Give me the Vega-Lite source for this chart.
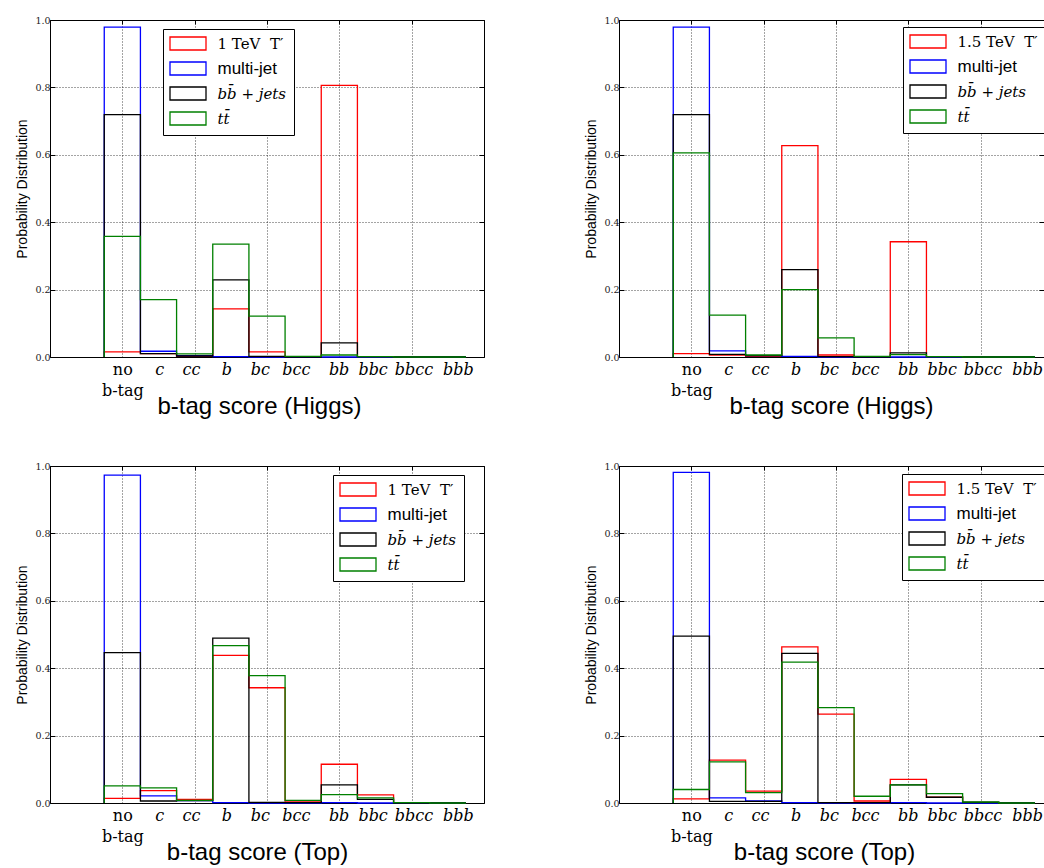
{
"$schema":"https://vega.github.io/schema/vega-lite/v6.json",
"padding":{"left":15,"top":14,"right":0,"bottom":0},
"background":"white",
"config":{
 "view":{"stroke":"black","strokeWidth":1},
 "axis":{"domain":false,"tickColor":"black","tickWidth":1,"gridColor":"black","gridDash":[1,2],"gridWidth":0.8,"gridOpacity":0.9,"labelFont":"DejaVu Serif","labelColor":"#222","titleFont":"Liberation Sans","titleFontWeight":"normal","titleColor":"black"},
 "line":{"strokeWidth":1.3}
},
"datasets":{"h":[
{"p":"TL","s":"sig","e":-0.5,"v":0},{"p":"TL","s":"sig","e":-0.5,"v":0.015},{"p":"TL","s":"sig","e":0.5,"v":0.010},{"p":"TL","s":"sig","e":1.5,"v":0.002},{"p":"TL","s":"sig","e":2.5,"v":0.143},{"p":"TL","s":"sig","e":3.5,"v":0.015},{"p":"TL","s":"sig","e":4.5,"v":0.001},{"p":"TL","s":"sig","e":5.5,"v":0.806},{"p":"TL","s":"sig","e":6.5,"v":0.001},{"p":"TL","s":"sig","e":7.5,"v":0},{"p":"TL","s":"sig","e":8.5,"v":0},{"p":"TL","s":"sig","e":9.5,"v":0},
{"p":"TL","s":"qcd","e":-0.5,"v":0},{"p":"TL","s":"qcd","e":-0.5,"v":0.979},{"p":"TL","s":"qcd","e":0.5,"v":0.017},{"p":"TL","s":"qcd","e":1.5,"v":0.004},{"p":"TL","s":"qcd","e":2.5,"v":0.001},{"p":"TL","s":"qcd","e":3.5,"v":0},{"p":"TL","s":"qcd","e":4.5,"v":0},{"p":"TL","s":"qcd","e":5.5,"v":0},{"p":"TL","s":"qcd","e":6.5,"v":0},{"p":"TL","s":"qcd","e":7.5,"v":0},{"p":"TL","s":"qcd","e":8.5,"v":0},{"p":"TL","s":"qcd","e":9.5,"v":0},
{"p":"TL","s":"bb","e":-0.5,"v":0},{"p":"TL","s":"bb","e":-0.5,"v":0.719},{"p":"TL","s":"bb","e":0.5,"v":0.010},{"p":"TL","s":"bb","e":1.5,"v":0.003},{"p":"TL","s":"bb","e":2.5,"v":0.229},{"p":"TL","s":"bb","e":3.5,"v":0.002},{"p":"TL","s":"bb","e":4.5,"v":0},{"p":"TL","s":"bb","e":5.5,"v":0.042},{"p":"TL","s":"bb","e":6.5,"v":0.001},{"p":"TL","s":"bb","e":7.5,"v":0},{"p":"TL","s":"bb","e":8.5,"v":0},{"p":"TL","s":"bb","e":9.5,"v":0},
{"p":"TL","s":"tt","e":-0.5,"v":0},{"p":"TL","s":"tt","e":-0.5,"v":0.358},{"p":"TL","s":"tt","e":0.5,"v":0.170},{"p":"TL","s":"tt","e":1.5,"v":0.009},{"p":"TL","s":"tt","e":2.5,"v":0.335},{"p":"TL","s":"tt","e":3.5,"v":0.121},{"p":"TL","s":"tt","e":4.5,"v":0.002},{"p":"TL","s":"tt","e":5.5,"v":0.006},{"p":"TL","s":"tt","e":6.5,"v":0.001},{"p":"TL","s":"tt","e":7.5,"v":0},{"p":"TL","s":"tt","e":8.5,"v":0},{"p":"TL","s":"tt","e":9.5,"v":0},
{"p":"TR","s":"sig","e":-0.5,"v":0},{"p":"TR","s":"sig","e":-0.5,"v":0.010},{"p":"TR","s":"sig","e":0.5,"v":0.006},{"p":"TR","s":"sig","e":1.5,"v":0.002},{"p":"TR","s":"sig","e":2.5,"v":0.627},{"p":"TR","s":"sig","e":3.5,"v":0.006},{"p":"TR","s":"sig","e":4.5,"v":0.001},{"p":"TR","s":"sig","e":5.5,"v":0.342},{"p":"TR","s":"sig","e":6.5,"v":0.001},{"p":"TR","s":"sig","e":7.5,"v":0},{"p":"TR","s":"sig","e":8.5,"v":0},{"p":"TR","s":"sig","e":9.5,"v":0},
{"p":"TR","s":"qcd","e":-0.5,"v":0},{"p":"TR","s":"qcd","e":-0.5,"v":0.979},{"p":"TR","s":"qcd","e":0.5,"v":0.018},{"p":"TR","s":"qcd","e":1.5,"v":0.004},{"p":"TR","s":"qcd","e":2.5,"v":0.002},{"p":"TR","s":"qcd","e":3.5,"v":0},{"p":"TR","s":"qcd","e":4.5,"v":0},{"p":"TR","s":"qcd","e":5.5,"v":0},{"p":"TR","s":"qcd","e":6.5,"v":0},{"p":"TR","s":"qcd","e":7.5,"v":0},{"p":"TR","s":"qcd","e":8.5,"v":0},{"p":"TR","s":"qcd","e":9.5,"v":0},
{"p":"TR","s":"bb","e":-0.5,"v":0},{"p":"TR","s":"bb","e":-0.5,"v":0.719},{"p":"TR","s":"bb","e":0.5,"v":0.008},{"p":"TR","s":"bb","e":1.5,"v":0.004},{"p":"TR","s":"bb","e":2.5,"v":0.259},{"p":"TR","s":"bb","e":3.5,"v":0.001},{"p":"TR","s":"bb","e":4.5,"v":0},{"p":"TR","s":"bb","e":5.5,"v":0.012},{"p":"TR","s":"bb","e":6.5,"v":0.001},{"p":"TR","s":"bb","e":7.5,"v":0},{"p":"TR","s":"bb","e":8.5,"v":0},{"p":"TR","s":"bb","e":9.5,"v":0},
{"p":"TR","s":"tt","e":-0.5,"v":0},{"p":"TR","s":"tt","e":-0.5,"v":0.606},{"p":"TR","s":"tt","e":0.5,"v":0.124},{"p":"TR","s":"tt","e":1.5,"v":0.006},{"p":"TR","s":"tt","e":2.5,"v":0.200},{"p":"TR","s":"tt","e":3.5,"v":0.057},{"p":"TR","s":"tt","e":4.5,"v":0.002},{"p":"TR","s":"tt","e":5.5,"v":0.007},{"p":"TR","s":"tt","e":6.5,"v":0.001},{"p":"TR","s":"tt","e":7.5,"v":0},{"p":"TR","s":"tt","e":8.5,"v":0},{"p":"TR","s":"tt","e":9.5,"v":0},
{"p":"BL","s":"sig","e":-0.5,"v":0},{"p":"BL","s":"sig","e":-0.5,"v":0.014},{"p":"BL","s":"sig","e":0.5,"v":0.037},{"p":"BL","s":"sig","e":1.5,"v":0.011},{"p":"BL","s":"sig","e":2.5,"v":0.438},{"p":"BL","s":"sig","e":3.5,"v":0.342},{"p":"BL","s":"sig","e":4.5,"v":0.006},{"p":"BL","s":"sig","e":5.5,"v":0.115},{"p":"BL","s":"sig","e":6.5,"v":0.024},{"p":"BL","s":"sig","e":7.5,"v":0.001},{"p":"BL","s":"sig","e":8.5,"v":0},{"p":"BL","s":"sig","e":9.5,"v":0},
{"p":"BL","s":"qcd","e":-0.5,"v":0},{"p":"BL","s":"qcd","e":-0.5,"v":0.973},{"p":"BL","s":"qcd","e":0.5,"v":0.021},{"p":"BL","s":"qcd","e":1.5,"v":0.007},{"p":"BL","s":"qcd","e":2.5,"v":0.001},{"p":"BL","s":"qcd","e":3.5,"v":0},{"p":"BL","s":"qcd","e":4.5,"v":0},{"p":"BL","s":"qcd","e":5.5,"v":0.001},{"p":"BL","s":"qcd","e":6.5,"v":0},{"p":"BL","s":"qcd","e":7.5,"v":0},{"p":"BL","s":"qcd","e":8.5,"v":0},{"p":"BL","s":"qcd","e":9.5,"v":0},
{"p":"BL","s":"bb","e":-0.5,"v":0},{"p":"BL","s":"bb","e":-0.5,"v":0.446},{"p":"BL","s":"bb","e":0.5,"v":0.006},{"p":"BL","s":"bb","e":1.5,"v":0.007},{"p":"BL","s":"bb","e":2.5,"v":0.489},{"p":"BL","s":"bb","e":3.5,"v":0.002},{"p":"BL","s":"bb","e":4.5,"v":0.001},{"p":"BL","s":"bb","e":5.5,"v":0.054},{"p":"BL","s":"bb","e":6.5,"v":0.011},{"p":"BL","s":"bb","e":7.5,"v":0},{"p":"BL","s":"bb","e":8.5,"v":0},{"p":"BL","s":"bb","e":9.5,"v":0},
{"p":"BL","s":"tt","e":-0.5,"v":0},{"p":"BL","s":"tt","e":-0.5,"v":0.051},{"p":"BL","s":"tt","e":0.5,"v":0.045},{"p":"BL","s":"tt","e":1.5,"v":0.008},{"p":"BL","s":"tt","e":2.5,"v":0.467},{"p":"BL","s":"tt","e":3.5,"v":0.378},{"p":"BL","s":"tt","e":4.5,"v":0.008},{"p":"BL","s":"tt","e":5.5,"v":0.025},{"p":"BL","s":"tt","e":6.5,"v":0.015},{"p":"BL","s":"tt","e":7.5,"v":0.001},{"p":"BL","s":"tt","e":8.5,"v":0},{"p":"BL","s":"tt","e":9.5,"v":0},
{"p":"BR","s":"sig","e":-0.5,"v":0},{"p":"BR","s":"sig","e":-0.5,"v":0.012},{"p":"BR","s":"sig","e":0.5,"v":0.127},{"p":"BR","s":"sig","e":1.5,"v":0.035},{"p":"BR","s":"sig","e":2.5,"v":0.463},{"p":"BR","s":"sig","e":3.5,"v":0.264},{"p":"BR","s":"sig","e":4.5,"v":0.006},{"p":"BR","s":"sig","e":5.5,"v":0.070},{"p":"BR","s":"sig","e":6.5,"v":0.017},{"p":"BR","s":"sig","e":7.5,"v":0.002},{"p":"BR","s":"sig","e":8.5,"v":0},{"p":"BR","s":"sig","e":9.5,"v":0},
{"p":"BR","s":"qcd","e":-0.5,"v":0},{"p":"BR","s":"qcd","e":-0.5,"v":0.981},{"p":"BR","s":"qcd","e":0.5,"v":0.015},{"p":"BR","s":"qcd","e":1.5,"v":0.006},{"p":"BR","s":"qcd","e":2.5,"v":0.001},{"p":"BR","s":"qcd","e":3.5,"v":0},{"p":"BR","s":"qcd","e":4.5,"v":0},{"p":"BR","s":"qcd","e":5.5,"v":0.001},{"p":"BR","s":"qcd","e":6.5,"v":0},{"p":"BR","s":"qcd","e":7.5,"v":0},{"p":"BR","s":"qcd","e":8.5,"v":0},{"p":"BR","s":"qcd","e":9.5,"v":0},
{"p":"BR","s":"bb","e":-0.5,"v":0},{"p":"BR","s":"bb","e":-0.5,"v":0.495},{"p":"BR","s":"bb","e":0.5,"v":0.005},{"p":"BR","s":"bb","e":1.5,"v":0.005},{"p":"BR","s":"bb","e":2.5,"v":0.444},{"p":"BR","s":"bb","e":3.5,"v":0.001},{"p":"BR","s":"bb","e":4.5,"v":0.001},{"p":"BR","s":"bb","e":5.5,"v":0.054},{"p":"BR","s":"bb","e":6.5,"v":0.017},{"p":"BR","s":"bb","e":7.5,"v":0.002},{"p":"BR","s":"bb","e":8.5,"v":0},{"p":"BR","s":"bb","e":9.5,"v":0},
{"p":"BR","s":"tt","e":-0.5,"v":0},{"p":"BR","s":"tt","e":-0.5,"v":0.040},{"p":"BR","s":"tt","e":0.5,"v":0.122},{"p":"BR","s":"tt","e":1.5,"v":0.031},{"p":"BR","s":"tt","e":2.5,"v":0.418},{"p":"BR","s":"tt","e":3.5,"v":0.283},{"p":"BR","s":"tt","e":4.5,"v":0.020},{"p":"BR","s":"tt","e":5.5,"v":0.054},{"p":"BR","s":"tt","e":6.5,"v":0.028},{"p":"BR","s":"tt","e":7.5,"v":0.003},{"p":"BR","s":"tt","e":8.5,"v":0},{"p":"BR","s":"tt","e":9.5,"v":0}
]},
"spacing":41,
"resolve":{"scale":{"color":"independent","x":"independent","y":"independent"},"legend":{"color":"independent"},"axis":{"x":"independent","y":"independent"}},
"vconcat":[
{"hconcat":[
 {"data":{"name":"h"},"transform":[{"filter":"datum.p == 'TL'"}],"width":434,"height":337,
  "layer":[
   {"mark":{"type":"line","interpolate":"step-after"},
    "encoding":{
     "x":{"field":"e","type":"quantitative","scale":{"domain":[-2,10],"nice":false,"zero":false},
      "axis":{"orient":"bottom","values":[0,1.02,1.9,2.88,3.8,4.8,5.98,6.92,8.05,9.28],"labelExpr":"datum.value < 0.5 ? ['no','b-tag'] : datum.value < 1.5 ? 'c' : datum.value < 2.4 ? 'cc' : datum.value < 3.3 ? 'b' : datum.value < 4.3 ? 'bc' : datum.value < 5.4 ? 'bcc' : datum.value < 6.5 ? 'bb' : datum.value < 7.5 ? 'bbc' : datum.value < 8.6 ? 'bbcc' : 'bbb'","labelFontStyle":{"condition":{"test":"datum.value < 0.5","value":"normal"},"value":"italic"},"labelFontSize":16,"labelLineHeight":21,"labelBaseline":"top","labelAlign":"center","labelPadding":4,"labelOverlap":false,"labelBound":false,"labelFlush":false,"labelColor":"black","grid":false,"ticks":false,"title":"b-tag score (Higgs)","titleFontSize":24,"titleX":209,"titleY":56,"titleBaseline":"alphabetic","titleAlign":"center","titleAnchor":null}},
     "y":{"field":"v","type":"quantitative","scale":{"domain":[0,1],"nice":false,"zero":false},
      "axis":{"orient":"left","values":[0,0.2,0.4,0.6,0.8,1],"format":".1f","labelFontSize":9.5,"labelPadding":5,"tickSize":-5,"grid":true,"title":"Probability Distribution","titleFontSize":14,"titlePadding":5}},
     "color":{"field":"s","type":"nominal","scale":{"domain":["sig","qcd","bb","tt"],"range":["#ff0000","#0000ff","#000000","#008000"]},
      "legend":{"orient":"none","legendX":113,"legendY":9,"title":null,"labelExpr":"(datum.value == 'sig' ? '1 TeV\u00a0 T′' : datum.value == 'qcd' ? 'multi-jet' : datum.value == 'bb' ? 'bb\u0304 + jets' : 'tt\u0304') + '\u00a0\u00a0\u00a0\u00a0\u00a0'","symbolType":"M-2.77,-1H2.77V1H-2.77Z","symbolSize":169,"symbolStrokeWidth":1.5,"symbolFillColor":"transparent","symbolOffset":10.5,"labelOffset":22,"padding":7,"rowPadding":6,"strokeColor":"black","fillColor":"white","cornerRadius":0,"labelColor":"black",
       "labelFontSize":{"expr":"datum.value == 'qcd' ? 17 : 15"},"labelFont":{"expr":"datum.value == 'qcd' ? 'Liberation Sans' : 'DejaVu Serif'"},"labelFontStyle":{"expr":"datum.value == 'bb' || datum.value == 'tt' ? 'italic' : 'normal'"}}},
     "order":{"value":null}}},
   {"mark":{"type":"line","strokeOpacity":0},
    "encoding":{
     "x":{"field":"e","type":"quantitative","axis":{"orient":"top","values":[-2,0,2,4,6,8,10],"labels":false,"grid":true,"tickSize":-4,"title":null}},
     "y":{"field":"v","type":"quantitative","axis":{"orient":"right","values":[0,0.2,0.4,0.6,0.8,1],"labels":false,"grid":false,"tickSize":-5,"title":null}}}}
  ],
  "resolve":{"axis":{"x":"independent","y":"independent"}}},
 {"data":{"name":"h"},"transform":[{"filter":"datum.p == 'TR'"}],"width":425,"height":337,
  "layer":[
   {"mark":{"type":"line","interpolate":"step-after"},
    "encoding":{
     "x":{"field":"e","type":"quantitative","scale":{"domain":[-2,9.75],"nice":false,"zero":false},
      "axis":{"orient":"bottom","values":[0,1.02,1.9,2.88,3.8,4.8,5.98,6.92,8.05,9.28],"labelExpr":"datum.value < 0.5 ? ['no','b-tag'] : datum.value < 1.5 ? 'c' : datum.value < 2.4 ? 'cc' : datum.value < 3.3 ? 'b' : datum.value < 4.3 ? 'bc' : datum.value < 5.4 ? 'bcc' : datum.value < 6.5 ? 'bb' : datum.value < 7.5 ? 'bbc' : datum.value < 8.6 ? 'bbcc' : 'bbb'","labelFontStyle":{"condition":{"test":"datum.value < 0.5","value":"normal"},"value":"italic"},"labelFontSize":16,"labelLineHeight":21,"labelBaseline":"top","labelAlign":"center","labelPadding":4,"labelOverlap":false,"labelBound":false,"labelFlush":false,"labelColor":"black","grid":false,"ticks":false,"title":"b-tag score (Higgs)","titleFontSize":24,"titleX":212,"titleY":56,"titleBaseline":"alphabetic","titleAlign":"center","titleAnchor":null}},
     "y":{"field":"v","type":"quantitative","scale":{"domain":[0,1],"nice":false,"zero":false},
      "axis":{"orient":"left","values":[0,0.2,0.4,0.6,0.8,1],"format":".1f","labelFontSize":9.5,"labelPadding":5,"tickSize":-5,"grid":true,"title":"Probability Distribution","titleFontSize":14,"titlePadding":5}},
     "color":{"field":"s","type":"nominal","scale":{"domain":["sig","qcd","bb","tt"],"range":["#ff0000","#0000ff","#000000","#008000"]},
      "legend":{"orient":"none","legendX":284,"legendY":7,"title":null,"labelExpr":"(datum.value == 'sig' ? '1.5 TeV\u00a0 T′' : datum.value == 'qcd' ? 'multi-jet' : datum.value == 'bb' ? 'bb\u0304 + jets' : 'tt\u0304') + '\u00a0'","symbolType":"M-2.77,-1H2.77V1H-2.77Z","symbolSize":169,"symbolStrokeWidth":1.5,"symbolFillColor":"transparent","symbolOffset":10.5,"labelOffset":22,"padding":7,"rowPadding":6,"strokeColor":"black","fillColor":"white","cornerRadius":0,"labelColor":"black",
       "labelFontSize":{"expr":"datum.value == 'qcd' ? 17 : 15"},"labelFont":{"expr":"datum.value == 'qcd' ? 'Liberation Sans' : 'DejaVu Serif'"},"labelFontStyle":{"expr":"datum.value == 'bb' || datum.value == 'tt' ? 'italic' : 'normal'"}}},
     "order":{"value":null}}},
   {"mark":{"type":"line","strokeOpacity":0},
    "encoding":{
     "x":{"field":"e","type":"quantitative","axis":{"orient":"top","values":[-2,0,2,4,6,8],"labels":false,"grid":true,"tickSize":-4,"title":null}},
     "y":{"field":"v","type":"quantitative","axis":{"orient":"right","values":[0,0.2,0.4,0.6,0.8,1],"labels":false,"grid":false,"tickSize":-5,"title":null}}}}
  ],
  "resolve":{"axis":{"x":"independent","y":"independent"}}}
 ],"spacing":99,
 "resolve":{"scale":{"color":"independent","x":"independent","y":"independent"},"legend":{"color":"independent"},"axis":{"x":"independent","y":"independent"}}},
{"hconcat":[
 {"data":{"name":"h"},"transform":[{"filter":"datum.p == 'BL'"}],"width":434,"height":337,
  "layer":[
   {"mark":{"type":"line","interpolate":"step-after"},
    "encoding":{
     "x":{"field":"e","type":"quantitative","scale":{"domain":[-2,10],"nice":false,"zero":false},
      "axis":{"orient":"bottom","values":[0,1.02,1.9,2.88,3.8,4.8,5.98,6.92,8.05,9.28],"labelExpr":"datum.value < 0.5 ? ['no','b-tag'] : datum.value < 1.5 ? 'c' : datum.value < 2.4 ? 'cc' : datum.value < 3.3 ? 'b' : datum.value < 4.3 ? 'bc' : datum.value < 5.4 ? 'bcc' : datum.value < 6.5 ? 'bb' : datum.value < 7.5 ? 'bbc' : datum.value < 8.6 ? 'bbcc' : 'bbb'","labelFontStyle":{"condition":{"test":"datum.value < 0.5","value":"normal"},"value":"italic"},"labelFontSize":16,"labelLineHeight":21,"labelBaseline":"top","labelAlign":"center","labelPadding":4,"labelOverlap":false,"labelBound":false,"labelFlush":false,"labelColor":"black","grid":false,"ticks":false,"title":"b-tag score (Top)","titleFontSize":24,"titleX":207,"titleY":56,"titleBaseline":"alphabetic","titleAlign":"center","titleAnchor":null}},
     "y":{"field":"v","type":"quantitative","scale":{"domain":[0,1],"nice":false,"zero":false},
      "axis":{"orient":"left","values":[0,0.2,0.4,0.6,0.8,1],"format":".1f","labelFontSize":9.5,"labelPadding":5,"tickSize":-5,"grid":true,"title":"Probability Distribution","titleFontSize":14,"titlePadding":5}},
     "color":{"field":"s","type":"nominal","scale":{"domain":["sig","qcd","bb","tt"],"range":["#ff0000","#0000ff","#000000","#008000"]},
      "legend":{"orient":"none","legendX":283,"legendY":9,"title":null,"labelExpr":"(datum.value == 'sig' ? '1 TeV\u00a0 T′' : datum.value == 'qcd' ? 'multi-jet' : datum.value == 'bb' ? 'bb\u0304 + jets' : 'tt\u0304') + '\u00a0\u00a0\u00a0\u00a0\u00a0'","symbolType":"M-2.77,-1H2.77V1H-2.77Z","symbolSize":169,"symbolStrokeWidth":1.5,"symbolFillColor":"transparent","symbolOffset":10.5,"labelOffset":22,"padding":7,"rowPadding":6,"strokeColor":"black","fillColor":"white","cornerRadius":0,"labelColor":"black",
       "labelFontSize":{"expr":"datum.value == 'qcd' ? 17 : 15"},"labelFont":{"expr":"datum.value == 'qcd' ? 'Liberation Sans' : 'DejaVu Serif'"},"labelFontStyle":{"expr":"datum.value == 'bb' || datum.value == 'tt' ? 'italic' : 'normal'"}}},
     "order":{"value":null}}},
   {"mark":{"type":"line","strokeOpacity":0},
    "encoding":{
     "x":{"field":"e","type":"quantitative","axis":{"orient":"top","values":[-2,0,2,4,6,8,10],"labels":false,"grid":true,"tickSize":-4,"title":null}},
     "y":{"field":"v","type":"quantitative","axis":{"orient":"right","values":[0,0.2,0.4,0.6,0.8,1],"labels":false,"grid":false,"tickSize":-5,"title":null}}}}
  ],
  "resolve":{"axis":{"x":"independent","y":"independent"}}},
 {"data":{"name":"h"},"transform":[{"filter":"datum.p == 'BR'"}],"width":425,"height":337,
  "layer":[
   {"mark":{"type":"line","interpolate":"step-after"},
    "encoding":{
     "x":{"field":"e","type":"quantitative","scale":{"domain":[-2,9.75],"nice":false,"zero":false},
      "axis":{"orient":"bottom","values":[0,1.02,1.9,2.88,3.8,4.8,5.98,6.92,8.05,9.28],"labelExpr":"datum.value < 0.5 ? ['no','b-tag'] : datum.value < 1.5 ? 'c' : datum.value < 2.4 ? 'cc' : datum.value < 3.3 ? 'b' : datum.value < 4.3 ? 'bc' : datum.value < 5.4 ? 'bcc' : datum.value < 6.5 ? 'bb' : datum.value < 7.5 ? 'bbc' : datum.value < 8.6 ? 'bbcc' : 'bbb'","labelFontStyle":{"condition":{"test":"datum.value < 0.5","value":"normal"},"value":"italic"},"labelFontSize":16,"labelLineHeight":21,"labelBaseline":"top","labelAlign":"center","labelPadding":4,"labelOverlap":false,"labelBound":false,"labelFlush":false,"labelColor":"black","grid":false,"ticks":false,"title":"b-tag score (Top)","titleFontSize":24,"titleX":205,"titleY":56,"titleBaseline":"alphabetic","titleAlign":"center","titleAnchor":null}},
     "y":{"field":"v","type":"quantitative","scale":{"domain":[0,1],"nice":false,"zero":false},
      "axis":{"orient":"left","values":[0,0.2,0.4,0.6,0.8,1],"format":".1f","labelFontSize":9.5,"labelPadding":5,"tickSize":-5,"grid":true,"title":"Probability Distribution","titleFontSize":14,"titlePadding":5}},
     "color":{"field":"s","type":"nominal","scale":{"domain":["sig","qcd","bb","tt"],"range":["#ff0000","#0000ff","#000000","#008000"]},
      "legend":{"orient":"none","legendX":283,"legendY":8,"title":null,"labelExpr":"(datum.value == 'sig' ? '1.5 TeV\u00a0 T′' : datum.value == 'qcd' ? 'multi-jet' : datum.value == 'bb' ? 'bb\u0304 + jets' : 'tt\u0304') + '\u00a0'","symbolType":"M-2.77,-1H2.77V1H-2.77Z","symbolSize":169,"symbolStrokeWidth":1.5,"symbolFillColor":"transparent","symbolOffset":10.5,"labelOffset":22,"padding":7,"rowPadding":6,"strokeColor":"black","fillColor":"white","cornerRadius":0,"labelColor":"black",
       "labelFontSize":{"expr":"datum.value == 'qcd' ? 17 : 15"},"labelFont":{"expr":"datum.value == 'qcd' ? 'Liberation Sans' : 'DejaVu Serif'"},"labelFontStyle":{"expr":"datum.value == 'bb' || datum.value == 'tt' ? 'italic' : 'normal'"}}},
     "order":{"value":null}}},
   {"mark":{"type":"line","strokeOpacity":0},
    "encoding":{
     "x":{"field":"e","type":"quantitative","axis":{"orient":"top","values":[-2,0,2,4,6,8],"labels":false,"grid":true,"tickSize":-4,"title":null}},
     "y":{"field":"v","type":"quantitative","axis":{"orient":"right","values":[0,0.2,0.4,0.6,0.8,1],"labels":false,"grid":false,"tickSize":-5,"title":null}}}}
  ],
  "resolve":{"axis":{"x":"independent","y":"independent"}}}
 ],"spacing":99,
 "resolve":{"scale":{"color":"independent","x":"independent","y":"independent"},"legend":{"color":"independent"},"axis":{"x":"independent","y":"independent"}}}
]
}
